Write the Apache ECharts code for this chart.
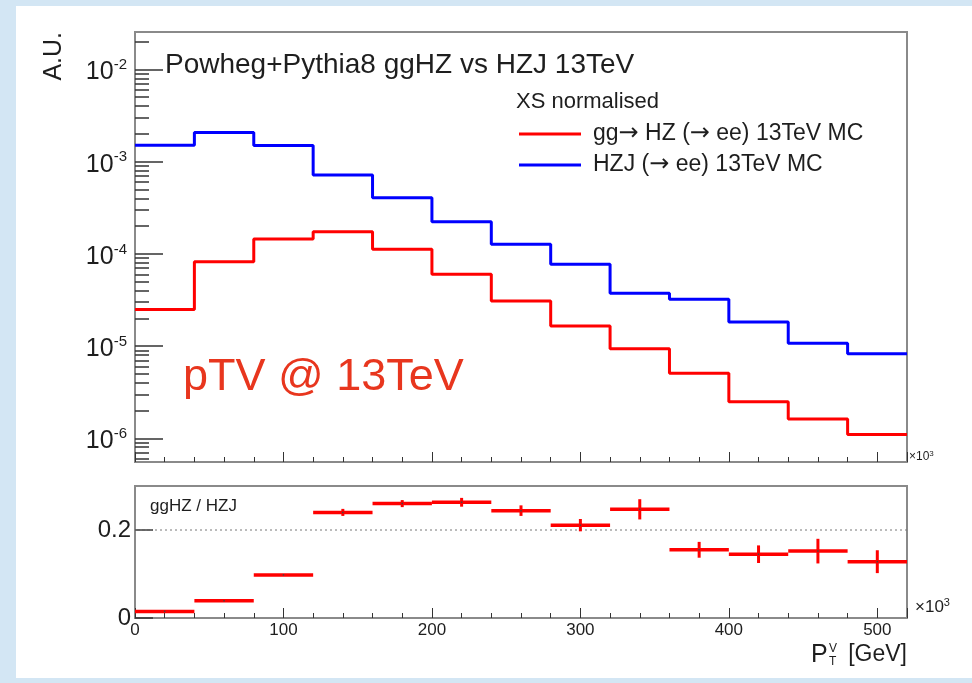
<!DOCTYPE html>
<html>
<head>
<meta charset="utf-8">
<script src="https://cdn.jsdelivr.net/npm/echarts@6/dist/echarts.min.js"></script>
<style>
html,body{margin:0;padding:0;background:#d3e6f4;}
#panel{position:absolute;left:16px;top:6px;width:956px;height:672px;background:#ffffff;}
#chart{position:absolute;left:0;top:0;width:972px;height:683px;}
</style>
</head>
<body>
<div id="panel"></div>
<div id="chart"></div>
<script>
// ---- data ----
const binEdges = [0, 40, 80, 120, 160, 200, 240, 280, 320, 360, 400, 440, 480, 520];
const ggHZ = [2.5e-5, 8.2e-5, 1.45e-4, 1.74e-4, 1.12e-4, 6.0e-5, 3.08e-5, 1.65e-5, 9.38e-6, 5.07e-6, 2.49e-6, 1.62e-6, 1.10e-6];
const HZJ  = [1.51e-3, 2.07e-3, 1.50e-3, 7.18e-4, 4.07e-4, 2.23e-4, 1.27e-4, 7.71e-5, 3.73e-5, 3.22e-5, 1.82e-5, 1.07e-5, 8.28e-6];
const ratio    = [0.015, 0.039, 0.098, 0.240, 0.260, 0.263, 0.244, 0.211, 0.247, 0.155, 0.145, 0.152, 0.128];
const ratioErr = [0.001, 0.001, 0.001, 0.008, 0.008, 0.010, 0.012, 0.014, 0.023, 0.018, 0.020, 0.028, 0.026];
const refLine = 0.2;
const yMajorTicks = [1e-6, 1e-5, 1e-4, 1e-3, 1e-2];
const yMinorMult = [2, 3, 4, 5, 6, 7, 8, 9];
const ratioTicks = [0, 0.2];
const xLabelTicks = [0, 100, 200, 300, 400, 500];
const seriesNames = ['gg\u2192 HZ (\u2192 ee) 13TeV MC', 'HZJ (\u2192 ee) 13TeV MC'];

// ---- layout ----
const xMin = 0, xMax = 520;
const yMin = 5.53e-7, yMax = 2.55e-2;
const FONT = '"Liberation Sans", Arial, sans-serif';
const ARROWFONT = '"DejaVu Sans", sans-serif';
const TXT = '#1e1e1e';
const FRAME = '#8a8a8a';

function stepData(vals) {
  const d = vals.map((v, i) => [binEdges[i], v]);
  d.push([binEdges[binEdges.length - 1], vals[vals.length - 1]]);
  return d;
}
const minorVals = [];
for (let e = -7; e <= -2; e++) {
  yMinorMult.forEach(m => {
    const v = m * Math.pow(10, e);
    if (v >= yMin && v <= yMax) minorVals.push(Math.log10(v));
  });
}
const majorLog = yMajorTicks.map(v => Math.round(Math.log10(v)));
const ratioData = ratio.map((r, i) => [binEdges[i], binEdges[i + 1], r, ratioErr[i]]);

const chart = echarts.init(document.getElementById('chart'), null, {renderer: 'canvas'});
const noAxis = {axisLine: {show: false}, axisLabel: {show: false}, axisTick: {show: false}, splitLine: {show: false}};

const option = {
  animation: false,
  textStyle: {fontFamily: FONT},
  grid: [
    {left: 135, top: 32, width: 772, height: 430, show: true, borderColor: FRAME, borderWidth: 2, backgroundColor: 'transparent'},
    {left: 135, top: 486, width: 772, height: 132, show: true, borderColor: FRAME, borderWidth: 2, backgroundColor: 'transparent'}
  ],
  legend: {
    data: seriesNames,
    left: 519, top: 122,
    padding: 0,
    orient: 'vertical',
    icon: 'rect',
    itemWidth: 62, itemHeight: 3,
    itemGap: 7,
    formatter: name => name.replace(/\u2192/g, '{a|\u2192}'),
    textStyle: {fontFamily: FONT, fontSize: 23, color: TXT, padding: [0, 0, 0, 7], lineHeight: 21,
      rich: {a: {fontFamily: ARROWFONT, fontSize: 24, color: TXT, lineHeight: 21}}},
    selectedMode: false
  },
  xAxis: [
    Object.assign({}, noAxis, {type: 'value', gridIndex: 0, position: 'bottom', min: xMin, max: xMax, interval: 20,
      axisTick: {show: true, inside: true, length: 5, lineStyle: {color: '#333', width: 1}}}),
    Object.assign({}, noAxis, {type: 'value', gridIndex: 0, position: 'bottom', offset: 0, min: xMin, max: xMax, interval: 100,
      axisTick: {show: true, inside: true, length: 10, lineStyle: {color: '#333', width: 1}}}),
    Object.assign({}, noAxis, {type: 'value', gridIndex: 1, position: 'bottom', min: xMin, max: xMax, interval: 20,
      axisTick: {show: true, inside: true, length: 5, lineStyle: {color: '#333', width: 1}}}),
    Object.assign({}, noAxis, {type: 'value', gridIndex: 1, position: 'bottom', offset: 0, min: xMin, max: xMax, interval: 100,
      axisTick: {show: true, inside: true, length: 10, lineStyle: {color: '#333', width: 1}},
      axisLabel: {show: true, customValues: xLabelTicks, margin: 4, fontSize: 17, color: TXT, fontFamily: FONT}})
  ],
  yAxis: [
    Object.assign({}, noAxis, {type: 'log', logBase: 10, gridIndex: 0, position: 'left', offset: 0, min: yMin, max: yMax}),
    Object.assign({}, noAxis, {type: 'value', gridIndex: 0, position: 'left', offset: 0, min: Math.log10(yMin), max: Math.log10(yMax),
      axisTick: {show: true, inside: true, length: 28, customValues: majorLog, lineStyle: {color: '#333', width: 1.5}},
      axisLabel: {show: true, customValues: majorLog, margin: 8, padding: [6, 0, 0, 0],
        formatter: v => '{b|10}{s|' + Math.round(v) + '}',
        rich: {b: {fontSize: 25, lineHeight: 30, color: TXT, fontFamily: FONT},
               s: {fontSize: 15, lineHeight: 15, verticalAlign: 'top', color: TXT, fontFamily: FONT}}}}),
    Object.assign({}, noAxis, {type: 'value', gridIndex: 0, position: 'left', offset: 0, min: Math.log10(yMin), max: Math.log10(yMax),
      axisTick: {show: true, inside: true, length: 14, customValues: minorVals, lineStyle: {color: '#333', width: 1.5}}}),
    Object.assign({}, noAxis, {type: 'value', gridIndex: 1, position: 'left', min: 0, max: 0.3,
      axisTick: {show: true, inside: true, length: 18, customValues: ratioTicks, lineStyle: {color: '#333', width: 1.5}},
      axisLabel: {show: true, customValues: ratioTicks, margin: 4, fontSize: 24, color: TXT, fontFamily: FONT,
        formatter: v => v === 0 ? '0' : v.toFixed(1)}})
  ],
  series: [
    {name: seriesNames[0], type: 'line', xAxisIndex: 0, yAxisIndex: 0, step: 'end', symbol: 'none',
     data: stepData(ggHZ), lineStyle: {color: '#ff0000', width: 3}, itemStyle: {color: '#ff0000'}, z: 3},
    {name: seriesNames[1], type: 'line', xAxisIndex: 0, yAxisIndex: 0, step: 'end', symbol: 'none',
     data: stepData(HZJ), lineStyle: {color: '#0000ff', width: 3}, itemStyle: {color: '#0000ff'}, z: 3},
    {type: 'line', xAxisIndex: 2, yAxisIndex: 3, symbol: 'none', silent: true,
     data: [[xMin, refLine], [xMax, refLine]], lineStyle: {color: '#777', width: 1, type: [2, 3]}, z: 1},
    {type: 'custom', xAxisIndex: 2, yAxisIndex: 3, data: ratioData, z: 3,
     renderItem: function (params, api) {
       const lo = api.value(0), hi = api.value(1), y = api.value(2), e = api.value(3);
       const pL = api.coord([lo, y]), pR = api.coord([hi, y]);
       const mid = (lo + hi) / 2;
       const pT = api.coord([mid, y + e]), pB = api.coord([mid, y - e]);
       const pc = api.coord([mid, y]);
       return {type: 'group', children: [
         {type: 'line', shape: {x1: pL[0], y1: pL[1], x2: pR[0], y2: pR[1]}, style: {stroke: '#ff0000', lineWidth: 3.5}},
         {type: 'line', shape: {x1: pT[0], y1: pT[1], x2: pB[0], y2: pB[1]}, style: {stroke: '#ff0000', lineWidth: 3}},
         {type: 'rect', shape: {x: pc[0] - 0.75, y: pc[1] - 0.75, width: 1.5, height: 1.5}, style: {fill: '#444'}}
       ]};
     }}
  ],
  graphic: [
    {type: 'text', left: 165, top: 51, style: {text: 'Powheg+Pythia8 ggHZ vs HZJ 13TeV', font: '28px ' + FONT, fill: TXT}},
    {type: 'text', left: 516, top: 91, style: {text: 'XS normalised', font: '22px ' + FONT, fill: TXT}},
    {type: 'text', left: 183, top: 355, style: {text: 'pTV @ 13TeV', font: '45px ' + FONT, fill: '#e8361e'}},
    {type: 'text', x: 54, y: 32, rotation: Math.PI / 2, style: {text: 'A.U.', font: '25px ' + FONT, fill: TXT, align: 'right', verticalAlign: 'middle'}},
    {type: 'text', left: 150, top: 498, style: {text: 'ggHZ / HZJ', font: '17px ' + FONT, fill: TXT}},
    {type: 'text', left: 909, top: 450, style: {text: '{a|\u00d710}{b|3}', rich: {a: {font: '12px ' + FONT, fill: TXT, lineHeight: 14}, b: {font: '8px ' + FONT, fill: TXT, verticalAlign: 'top', lineHeight: 8}}}},
    {type: 'text', left: 915, top: 597, style: {text: '{a|\u00d710}{b|3}', rich: {a: {font: '17px ' + FONT, fill: TXT, lineHeight: 20}, b: {font: '11px ' + FONT, fill: TXT, verticalAlign: 'top', lineHeight: 11}}}},
    {type: 'text', x: 811, y: 655, style: {text: 'P', font: '25px ' + FONT, fill: TXT, align: 'left', verticalAlign: 'middle'}},
    {type: 'text', x: 829, y: 649, style: {text: 'V', font: '12px ' + FONT, fill: TXT, align: 'left', verticalAlign: 'middle'}},
    {type: 'text', x: 829, y: 662, style: {text: 'T', font: '12px ' + FONT, fill: TXT, align: 'left', verticalAlign: 'middle'}},
    {type: 'text', x: 907, y: 655, style: {text: '[GeV]', font: '23px ' + FONT, fill: TXT, align: 'right', verticalAlign: 'middle'}}
  ]
};
chart.setOption(option);
</script>
</body>
</html>
